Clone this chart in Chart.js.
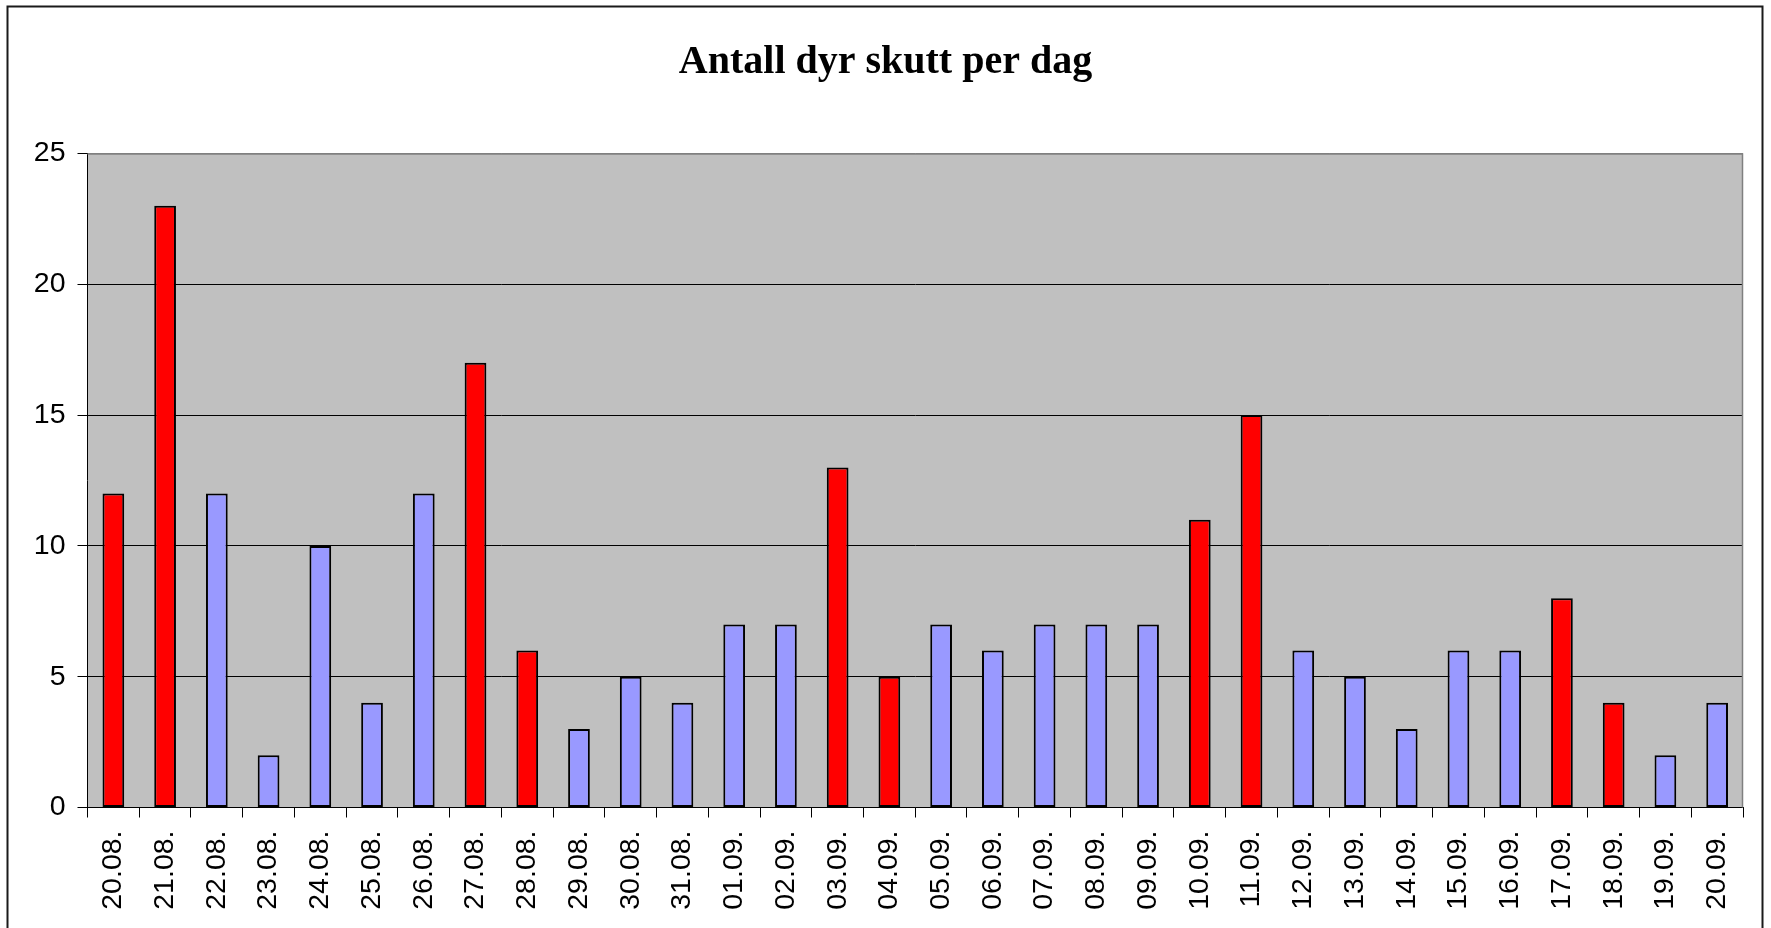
<!DOCTYPE html>
<html>
<head>
<meta charset="utf-8">
<script src="https://cdn.jsdelivr.net/npm/chart.js@4/dist/chart.umd.min.js"></script>
<style>
  html, body { margin: 0; padding: 0; background: #ffffff; }
  #wrap { position: relative; width: 1771px; height: 928px; }
  canvas { display: block; }
</style>
</head>
<body>
<div id="wrap"><canvas id="c" width="1771" height="928"></canvas></div>
<script>
// ---- data ----
const titleText = "Antall dyr skutt per dag";
const categories = ["20.08.","21.08.","22.08.","23.08.","24.08.","25.08.","26.08.","27.08.","28.08.","29.08.","30.08.","31.08.",
                    "01.09.","02.09.","03.09.","04.09.","05.09.","06.09.","07.09.","08.09.","09.09.","10.09.","11.09.","12.09.",
                    "13.09.","14.09.","15.09.","16.09.","17.09.","18.09.","19.09.","20.09."];
const values = [12, 23, 12, 2, 10, 4, 12, 17, 6, 3, 5, 4,
                7, 7, 13, 5, 7, 6, 7, 7, 7, 11, 15, 6,
                5, 3, 6, 6, 8, 4, 2, 4];
// true = weekend day (drawn red), false = weekday (drawn blue)
const weekend = [true, true, false, false, false, false, false, true, true, false, false, false,
                 false, false, true, true, false, false, false, false, false, true, true, false,
                 false, false, false, false, true, true, false, false];
const yTicks = [0, 5, 10, 15, 20, 25];

// ---- styles ----
const RED = "#FF0000";
const BLUE = "#9999FF";

const decor = {
  id: "decor",
  beforeDraw(chart) {
    const { ctx, chartArea: a } = chart;
    ctx.save();
    ctx.fillStyle = "#C0C0C0";
    ctx.fillRect(a.left, a.top, a.right - a.left, a.bottom - a.top);
    ctx.restore();
  },
  beforeDatasetsDraw(chart) {
    const { ctx, chartArea: a } = chart;
    ctx.save();
    ctx.strokeStyle = "#808080";
    ctx.lineWidth = 1.5;
    ctx.beginPath();
    ctx.moveTo(a.left, a.top + 0.5);
    ctx.lineTo(a.right - 0.5, a.top + 0.5);
    ctx.lineTo(a.right - 0.5, a.bottom);
    ctx.stroke();
    ctx.restore();
  },
  afterDraw(chart) {
    const { ctx } = chart;
    ctx.save();
    ctx.strokeStyle = "#1a1a1a";
    ctx.lineWidth = 2;
    ctx.strokeRect(7.5, 6.5, 1755, 1000);
    ctx.restore();
  }
};

new Chart(document.getElementById("c"), {
  type: "bar",
  data: {
    labels: categories,
    datasets: [{
      data: values,
      backgroundColor: weekend.map(w => w ? RED : BLUE),
      borderColor: "#000000",
      borderWidth: 2,
      borderSkipped: false,
      barPercentage: 0.42,
      categoryPercentage: 1.0
    }]
  },
  options: {
    responsive: false,
    devicePixelRatio: 1,
    animation: false,
    layout: { padding: { left: 28, right: 28, top: 0, bottom: 0 } },
    plugins: {
      legend: { display: false },
      tooltip: { enabled: false },
      title: {
        display: true,
        text: titleText,
        color: "#000000",
        font: { family: "'Liberation Serif', 'Times New Roman', serif", size: 40, weight: "bold", lineHeight: 1.2 },
        padding: { top: 38.5, bottom: 67 }
      }
    },
    scales: {
      x: {
        offset: true,
        grid: { display: true, drawOnChartArea: false, drawTicks: true, tickLength: 10, color: "#000000", tickColor: "#000000", offset: true },
        border: { display: true, color: "#000000", width: 1 },
        ticks: {
          autoSkip: false, maxRotation: 90, minRotation: 90, padding: 13,
          color: "#000000",
          font: { family: "'Liberation Sans', Arial, sans-serif", size: 28.5 }
        },
        afterFit(scale) { scale.height = 120.5; }
      },
      y: {
        min: 0, max: 25,
        afterBuildTicks(scale) { scale.ticks = yTicks.map(v => ({ value: v })); },
        grid: {
          drawTicks: true, tickLength: 10,
          color: (c) => (c.tick && c.tick.value === 25) ? "#808080" : "#000000",
          tickColor: "#000000", lineWidth: 1
        },
        border: { display: true, color: "#000000", width: 1 },
        ticks: {
          padding: 12, color: "#000000",
          font: { family: "'Liberation Sans', Arial, sans-serif", size: 28.5 }
        },
        afterFit(scale) { scale.width = 59.5; }
      }
    }
  },
  plugins: [decor]
});
</script>
</body>
</html>
